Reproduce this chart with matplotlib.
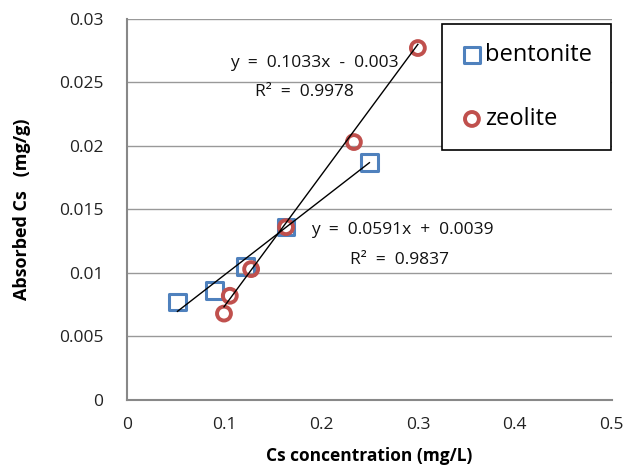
import matplotlib
matplotlib.use("Agg")
import matplotlib.pyplot as plt
import numpy as np

plt.rcParams['font.family'] = ['Open Sans', 'DejaVu Sans']

# measured points
bent_x = [0.052, 0.090, 0.122, 0.164, 0.250]
bent_y = [0.0077, 0.0086, 0.0105, 0.0136, 0.0187]
zeo_x = [0.100, 0.106, 0.128, 0.164, 0.234, 0.300]
zeo_y = [0.0068, 0.0082, 0.0103, 0.0136, 0.0203, 0.0277]

# trendline coefficients (slope, intercept) as printed on the chart
bent_fit = (0.0591, 0.0039)
zeo_fit = (0.1033, -0.003)

x_ticks = [0, 0.1, 0.2, 0.3, 0.4, 0.5]
y_ticks = [0, 0.005, 0.01, 0.015, 0.02, 0.025, 0.03]

fig = plt.figure(figsize=(6.32, 4.70), dpi=100)
ax = fig.add_axes([0.201, 0.149, 0.767, 0.811])

ax.set_xlim(0, 0.5)
ax.set_ylim(0, 0.03)
ax.set_xticks(x_ticks)
ax.set_xticklabels(['0', '0.1', '0.2', '0.3', '0.4', '0.5'])
ax.set_yticks(y_ticks)
ax.set_yticklabels(['0', '0.005', '0.01', '0.015', '0.02', '0.025', '0.03'])
ax.tick_params(length=0, labelsize=12.5, colors='#222222')
ax.tick_params(axis='x', pad=12)
ax.tick_params(axis='y', pad=17)

ax.grid(axis='y', color='#999999', linewidth=1)
ax.set_axisbelow(True)
for s in ['top', 'right']:
    ax.spines[s].set_visible(False)
for s in ['left', 'bottom']:
    ax.spines[s].set_color('#888888')
    ax.spines[s].set_linewidth(1.5)

# trendlines
for xs, (m, b) in [(bent_x, bent_fit), (zeo_x, zeo_fit)]:
    xx = np.array([min(xs), max(xs)])
    ax.plot(xx, m * xx + b, color='black', linewidth=1, zorder=3)

ax.scatter(bent_x, bent_y, marker='s', s=140, facecolors='none',
           edgecolors='#4F81BD', linewidths=2.2, zorder=2, label='bentonite')
ax.scatter(zeo_x, zeo_y, marker='o', s=100, facecolors='none',
           edgecolors='#C0504D', linewidths=2.8, zorder=2, label='zeolite')

ann = dict(fontsize=12.5, ha='center', va='center', color='#111111')
ax.text(0.193, 0.0265, 'y  =  0.1033x  -  0.003', **ann)
ax.text(0.183, 0.0242, 'R²  =  0.9978', **ann)
ax.text(0.284, 0.0134, 'y  =  0.0591x  +  0.0039', **ann)
ax.text(0.281, 0.0110, 'R²  =  0.9837', **ann)

leg = ax.legend(loc='upper right', bbox_to_anchor=(0.998, 0.986), fontsize=17,
                frameon=True, fancybox=False, edgecolor='black', framealpha=1,
                handletextpad=0.1, labelspacing=1.7, borderpad=0.8,
                handlelength=0.9, markerscale=1.0, borderaxespad=0)
leg.get_frame().set_linewidth(1.2)

ax.set_xlabel('Cs concentration (mg/L)', fontsize=12.5, fontweight='bold', labelpad=10)
ax.set_ylabel('Absorbed Cs   (mg/g)', fontsize=13, fontweight='bold', labelpad=20)

fig.savefig('out.png', dpi=100)
